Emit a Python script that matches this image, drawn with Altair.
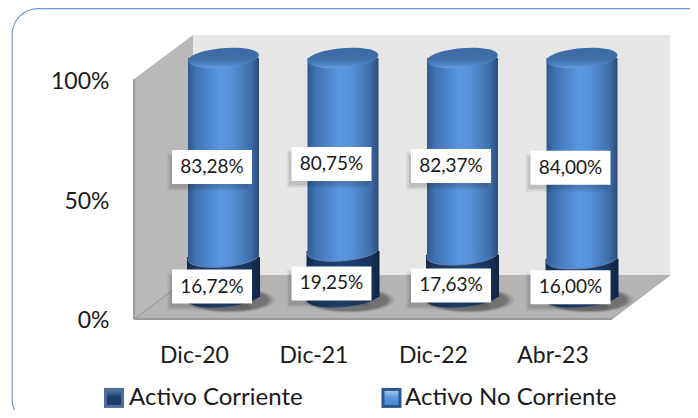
import altair as alt
import pandas as pd

categorias = ["Dic-20", "Dic-21", "Dic-22", "Abr-23"]
series = ["Activo Corriente", "Activo No Corriente"]
corriente = [16.72, 19.25, 17.63, 16.00]
no_corriente = [83.28, 80.75, 82.37, 84.00]
etq_corriente = ["16,72%", "19,25%", "17,63%", "16,00%"]
etq_no_corriente = ["83,28%", "80,75%", "82,37%", "84,00%"]

FONT = "Lato"
X_SCALE = alt.Scale(domain=[-1.5649, 4.1423], nice=False, zero=False, padding=0)
Y_SCALE = alt.Scale(domain=[-37.66, 130.54], nice=False, zero=False, padding=0)
CX, CY = 28.5, -23

X_AXIS = alt.Axis(values=[0, 1, 2, 3], ticks=False, domain=False, grid=False, offset=-66, labelPadding=0,
                  labelExpr="{}[datum.value]".format(categorias), labelFont=FONT, labelFontSize=23,
                  labelColor="#1a1a1a", title=None, labelBaseline="top", labelFlush=False, labelOverlap=False,
                  labelOffset=-1, zindex=1)
Y_AXIS = alt.Axis(values=[0, 50, 100], ticks=False, domain=False, grid=False, offset=-101, labelPadding=0,
                  labelExpr="datum.value + '%'", labelFont=FONT, labelFontSize=23, labelColor="#1a1a1a",
                  title=None, labelFlush=False, labelOverlap=False, labelOffset=1, zindex=1)


def X(f):
    return alt.X(f, scale=X_SCALE, axis=X_AXIS)


def Y(f):
    return alt.Y(f, scale=Y_SCALE, axis=Y_AXIS)


def grad(stops, horizontal=True):
    return alt.LinearGradient(
        gradient="linear",
        x1=0, y1=0, x2=1 if horizontal else 0, y2=0 if horizontal else 1,
        stops=[alt.GradientStop(offset=o, color=c) for o, c in stops],
    )


BLUE = grad([(0, "#2f5a8f"), (0.1, "#3f72b2"), (0.45, "#5a96e2"), (0.62, "#5790d8"), (0.88, "#3f70ad"), (1, "#2b4d7b")])
NAVY = grad([(0, "#13294a"), (0.12, "#1a3864"), (0.5, "#1f4478"), (0.85, "#183460"), (1, "#102443")])
LID = grad([(0, "#3a6aa3"), (0.55, "#3f6ea8"), (0.8, "#4a80c4"), (1, "#6a9edf")], horizontal=False)
SYM_NAVY = grad([(0, "#4d7299"), (0.3, "#2a4f80"), (0.45, "#1c3c6c"), (1, "#1c3c6c")], horizontal=False)
SYM_BLUE = grad([(0, "#a3c6ee"), (0.35, "#6ba3e6"), (0.5, "#5b98e0"), (1, "#4f8ad2")], horizontal=False)
ELLIPSE = "M-0.996,0.087A1,0.27,-5,1,1,0.996,-0.087A1,0.27,-5,1,1,-0.996,0.087Z"
FLAT = "M-1,0A1,0.28,0,1,1,1,0A1,0.28,0,1,1,-1,0Z"

rows = []
for i, c in enumerate(categorias):
    rows.append(dict(i=i, cat=c, serie=series[0], y0=0, y1=corriente[i],
                     mid=corriente[i] / 2, label=etq_corriente[i]))
    rows.append(dict(i=i, cat=c, serie=series[1], y0=corriente[i], y1=corriente[i] + no_corriente[i],
                     mid=corriente[i] + no_corriente[i] / 2, label=etq_no_corriente[i]))
df = pd.DataFrame(rows)
low = df[df.serie == series[0]]
up = df[df.serie == series[1]]

# frame
frame = alt.Chart(pd.DataFrame({"a": [-1.53], "b": [4.35], "c": [-44], "d": [130.3]})).mark_rect(
    fill="white", stroke="#6f9bd1", strokeWidth=1.2, cornerRadius=26, clip=False
).encode(x=X("a:Q"), x2="b:Q", y=Y("c:Q"), y2="d:Q")

# walls
back = alt.Chart(pd.DataFrame({"a": [-0.017], "b": [3.975], "c": [18.8], "d": [119.2]})).mark_rect(
    fill="#e6e6e6").encode(x=X("a:Q"), x2="b:Q", y=Y("c:Q"), y2="d:Q")
side = alt.Chart(pd.DataFrame({"a": [-0.51, -0.017], "c": [0.4, 18.8], "d": [100.8, 119.2]})).mark_area(
    fill="#b9b9b9", interpolate="linear").encode(x=X("a:Q"), y=Y("c:Q"), y2="d:Q")
floor = alt.Chart(pd.DataFrame({"c": [0.4, 18.8], "a": [-0.51, -0.017], "b": [3.49, 3.975]})).mark_area(
    fill="#b4b4b4", orient="horizontal", interpolate="linear").encode(y=Y("c:Q"), x=X("a:Q"), x2="b:Q")
fold = alt.Chart(pd.DataFrame({"a": [-0.51, -0.017], "c": [0.4, 18.8]})).mark_line(
    stroke="#8f8f8f", strokeWidth=1).encode(x=X("a:Q"), y=Y("c:Q"))
edge_l = alt.Chart(pd.DataFrame({"a": [-0.51], "c": [0.4], "d": [100.8]})).mark_rule(
    stroke="#999999", strokeWidth=2).encode(x=X("a:Q"), y=Y("c:Q"), y2="d:Q")
edge_b = alt.Chart(pd.DataFrame({"a": [-0.51], "b": [3.49], "c": [0.4]})).mark_rule(
    stroke="#999999", strokeWidth=2).encode(x=X("a:Q"), x2="b:Q", y=Y("c:Q"))
edge_r = alt.Chart(pd.DataFrame({"a": [3.49, 3.975], "c": [0.4, 18.8]})).mark_line(
    stroke="#a8a8a8", strokeWidth=1).encode(x=X("a:Q"), y=Y("c:Q"))

# floor shadows
shadows = [
    alt.Chart(low).mark_point(shape=FLAT, filled=True, fill="#222222", opacity=op, size=s, strokeWidth=0,
                              xOffset=CX + 6, yOffset=CY + 3).encode(x=X("i:Q"), y=Y("y0:Q"))
    for s, op in ((8400, 0.06), (7800, 0.08), (7200, 0.1), (6600, 0.14), (6000, 0.16))
]

# legend carrier (hidden under the cylinders); its swatches are drawn with bevels further down
legend_bar = alt.Chart(df).mark_bar(orient="vertical", width=60, xOffset=CX, yOffset=CY, y2Offset=CY).encode(
    x=X("i:Q"), y=Y("y1:Q"), y2="y0:Q",
    color=alt.Color("serie:N", scale=alt.Scale(domain=series, range=["#23467a", "#4f8ad2"]),
                    legend=alt.Legend(title=None, orient="none", legendX=94, legendY=378, direction="horizontal",
                                      columns=2, columnPadding=75, symbolType="square", symbolSize=380,
                                      symbolOpacity=0, labelFont=FONT,
                                      labelFontSize=24, labelColor="#1a1a1a", labelOffset=3, zindex=0,
                                      labelLimit=400)),
)

sym_x = [-0.678, 1.644]
sym_y = [-32.6, -32.6]
sym_df = pd.DataFrame({"a": sym_x, "c": sym_y})
sym_outer_n = alt.Chart(sym_df.iloc[[0]]).mark_point(shape="square", size=400, filled=True, opacity=1,
                                                     fill="#4d6c96", strokeWidth=0).encode(x=X("a:Q"), y=Y("c:Q"))
sym_outer_b = alt.Chart(sym_df.iloc[[1]]).mark_point(shape="square", size=400, filled=True, opacity=1,
                                                     fill="#2f5789", strokeWidth=0).encode(x=X("a:Q"), y=Y("c:Q"))
sym_inner_n = alt.Chart(sym_df.iloc[[0]]).mark_point(shape="square", size=196, filled=True, opacity=1,
                                                     fill=SYM_NAVY, strokeWidth=0).encode(x=X("a:Q"), y=Y("c:Q"))
sym_inner_b = alt.Chart(sym_df.iloc[[1]]).mark_point(shape="square", size=196, filled=True, opacity=1,
                                                     fill=SYM_BLUE, strokeWidth=0).encode(x=X("a:Q"), y=Y("c:Q"))

navy_body = alt.Chart(low).mark_bar(orient="vertical", width=73, fill=NAVY, xOffset=CX, yOffset=CY, y2Offset=CY).encode(
    x=X("i:Q"), y=Y("y1:Q"), y2="y0:Q")
navy_base = alt.Chart(low).mark_point(shape=ELLIPSE, size=73 * 73, filled=True, fill=NAVY, strokeWidth=0,
                                      opacity=1, xOffset=CX, yOffset=CY).encode(x=X("i:Q"), y=Y("y0:Q"))
blue_body = alt.Chart(up).mark_bar(orient="vertical", width=71, fill=BLUE, xOffset=CX, yOffset=CY, y2Offset=CY).encode(
    x=X("i:Q"), y=Y("y1:Q"), y2="y0:Q")
blue_base = alt.Chart(up).mark_point(shape=ELLIPSE, size=71 * 71, filled=True, fill=BLUE, stroke="#6f87ab",
                                     strokeWidth=1, opacity=1, xOffset=CX, yOffset=CY).encode(x=X("i:Q"), y=Y("y0:Q"))
blue_fill = alt.Chart(up).mark_bar(orient="vertical", width=70, fill=BLUE, xOffset=CX, yOffset=CY, y2Offset=CY).encode(
    x=X("i:Q"), y=Y("y1:Q"), y2="y0:Q")
lid = alt.Chart(up).mark_point(shape=ELLIPSE, size=71 * 71, filled=True, fill=LID, strokeWidth=0, opacity=1,
                               xOffset=CX, yOffset=CY).encode(x=X("i:Q"), y=Y("y1:Q"))

LX, LY = 17, -13.5
box_shadows = [
    alt.Chart(df).mark_rect(width=w, height=h, fill="#222222", opacity=op, xOffset=LX - 3, yOffset=LY + 5).encode(
        x=X("i:Q"), y=Y("mid:Q"))
    for w, h, op in ((84, 38, 0.05), (81, 35, 0.07), (78, 32, 0.09))
]
boxes = alt.Chart(df).mark_rect(width=80, height=34, fill="white", xOffset=LX, yOffset=LY).encode(
    x=X("i:Q"), y=Y("mid:Q"))
texts = alt.Chart(df).mark_text(font=FONT, fontSize=19, color="#1a1a1a", align="center", baseline="middle",
                                dx=LX, dy=LY).encode(x=X("i:Q"), y=Y("mid:Q"), text="label:N")

chart = alt.layer(
    frame, back, side, floor, fold, edge_l, edge_b, edge_r, *shadows, legend_bar,
    navy_body, navy_base, blue_body, blue_base, blue_fill, lid, *box_shadows, boxes, texts,
    sym_outer_n, sym_outer_b, sym_inner_n, sym_inner_b,
).properties(width=682, height=402, padding=0, autosize=alt.AutoSizeParams(type="none"),
             background="white").configure_view(stroke=None)

chart.save("out.html", embed_options={"renderer": "svg", "actions": False})
